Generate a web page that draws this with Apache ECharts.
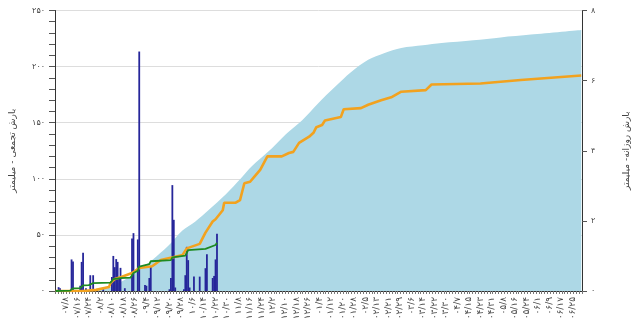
<!DOCTYPE html>
<html><head><meta charset="utf-8">
<script src="https://cdn.jsdelivr.net/npm/echarts@6/dist/echarts.min.js"></script>
<style>html,body{margin:0;padding:0;background:#fff}#c{width:640px;height:331px}</style>
</head><body><div id="c"></div>
<script>
// Persian water-year calendar: months Mehr(7)..Shahrivar(6)
const months = [7, 8, 9, 10, 11, 12, 1, 2, 3, 4, 5, 6];
const monthLengths = [30, 30, 30, 30, 30, 30, 31, 31, 31, 31, 31, 31];

// daily rainfall of current year (mm, right axis): day index -> value
const barDays = [2, 3, 11, 12, 17, 18, 19, 21, 24, 26, 33, 39, 40, 41, 42, 43, 44, 45, 48, 53, 54, 57, 58, 62, 63, 65, 66, 79, 80, 81, 82, 83, 89, 90, 91, 92, 93, 96, 100, 104, 105, 109, 110, 111, 112];
const barVals = [0.11, 0.08, 0.9, 0.84, 0.15, 0.83, 1.09, 0.08, 0.45, 0.45, 0.05, 0.4, 1.0, 0.68, 0.91, 0.83, 0.35, 0.66, 0.08, 1.5, 1.65, 1.47, 6.83, 0.17, 0.15, 0.37, 0.69, 0.05, 0.37, 3.02, 2.03, 0.1, 0.05, 0.45, 1.26, 0.88, 0.1, 0.41, 0.41, 0.65, 1.05, 0.37, 0.43, 0.9, 1.63];

// cumulative rainfall current year (green, left axis)
const greenDays = [0, 10, 11, 12, 17, 18, 19, 23, 24, 26, 38, 39, 40, 45, 52, 53, 54, 57, 58, 65, 66, 80, 81, 82, 90, 91, 92, 104, 105, 111, 112];
const greenVals = [0, 0.3, 1.2, 2.4, 2.6, 3.6, 5.0, 5.3, 6.0, 7.0, 7.5, 8.5, 10.5, 11.5, 12, 14, 16, 18, 21.7, 24, 26.5, 27.5, 30, 31, 31.5, 34, 36.5, 37.5, 39, 41, 43];

// cumulative rainfall previous year (orange, left axis)
const orangeDays = [0, 19, 28, 37, 38, 41, 46, 53, 58, 67, 73, 79, 83, 88, 91, 100, 104, 109, 111, 116, 117, 125, 128, 131, 135, 138, 142, 147, 157, 162, 165, 169, 176, 179, 181, 185, 187, 198, 200, 212, 217, 226, 233, 240, 257, 261, 295, 323, 365];
const orangeVals = [0, 0, 1, 3.5, 7, 10.7, 12.7, 16, 20.5, 22, 27.6, 29.4, 30.6, 32, 38, 42, 52, 62, 64, 72, 78.7, 78.7, 81, 96, 97.4, 102, 108, 120, 120, 123, 124, 132, 137.5, 141, 146, 148, 152, 155, 162, 163, 166, 170, 172.6, 177.6, 179, 184, 185, 188, 192];

// long-term mean cumulative rainfall (light blue area, left axis)
const areaDays = [0, 30, 37, 48, 57, 67, 78, 88, 97, 106, 118, 129, 136, 150, 160, 171, 182, 194, 205, 217, 228, 240, 255, 268, 290, 309, 330, 365];
const areaVals = [0, 1, 3, 10, 18, 27.6, 40, 54, 62, 72, 86, 101, 111, 127, 140, 152, 167, 182, 195, 206, 212, 216.6, 219, 221, 223.5, 226, 228.5, 232.6];

const faDigits = '۰۱۲۳۴۵۶۷۸۹';
const toFa = s => String(s).replace(/\d/g, d => faDigits[d]);

const categories = [];
months.forEach((m, k) => {
  for (let d = 1; d <= monthLengths[k]; d++) {
    categories.push(toFa((m < 10 ? '0' : '') + m + '/' + d));
  }
});

const barData = categories.map(() => null);
barDays.forEach((d, k) => { barData[d] = barVals[k]; });
const pairs = (xs, ys) => xs.map((x, k) => [x, ys[k]]);

const font = 'DejaVu Sans';
const chart = echarts.init(document.getElementById('c'), null, {renderer: 'canvas'});
chart.setOption({
  animation: false,
  backgroundColor: '#fff',
  textStyle: {fontFamily: font},
  grid: {left: 52, right: 58, top: 10.5, bottom: 40, containLabel: false},
  xAxis: {
    type: 'category',
    data: categories,
    boundaryGap: true,
    axisLine: {lineStyle: {color: '#333', width: 1}},
    axisTick: {show: true, interval: 1, length: 3, lineStyle: {color: '#777'}},
    axisLabel: {
      interval: (idx) => idx % 8 === 7,
      rotate: 90, fontSize: 9, color: '#444', margin: 6, fontFamily: font
    },
    splitLine: {show: false}
  },
  yAxis: [{
    type: 'value', min: 0, max: 250, interval: 50,
    position: 'left',
    name: 'بارش تجمعی - میلیمتر', nameLocation: 'middle', nameGap: 38, nameRotate: 90,
    nameTextStyle: {fontSize: 9, color: '#444', fontFamily: font},
    axisLine: {show: true, lineStyle: {color: '#333'}},
    axisTick: {show: true, length: 6, lineStyle: {color: '#555'}},
    minorTick: {show: true, splitNumber: 5, length: 6, lineStyle: {color: '#555'}},
    axisLabel: {formatter: v => toFa(v), fontSize: 8, color: '#444', margin: 10, fontFamily: font},
    splitLine: {show: true, lineStyle: {color: '#ddd', width: 1}}
  }, {
    type: 'value', min: 0, max: 8, interval: 2,
    position: 'right',
    name: 'بارش روزانه- میلیمتر', nameLocation: 'middle', nameGap: 40, nameRotate: 90,
    nameTextStyle: {fontSize: 9, color: '#444', fontFamily: font},
    axisLine: {show: true, lineStyle: {color: '#333'}},
    axisTick: {show: true, length: 5, lineStyle: {color: '#555'}},
    axisLabel: {formatter: v => toFa(v), fontSize: 8, color: '#444', margin: 9, fontFamily: font},
    splitLine: {show: false}
  }],
  series: [{
    name: 'mean', type: 'line', yAxisIndex: 0, z: 1, smooth: 0.3,
    data: pairs(areaDays, areaVals), showSymbol: false, symbol: 'none',
    lineStyle: {width: 0, color: '#add8e6'},
    areaStyle: {color: '#add8e6', opacity: 1}
  }, {
    name: 'daily', type: 'bar', yAxisIndex: 1, z: 3,
    data: barData, barWidth: 1.8,
    itemStyle: {color: '#26269a'}
  }, {
    name: 'prev', type: 'line', yAxisIndex: 0, z: 4,
    data: pairs(orangeDays, orangeVals), showSymbol: false, symbol: 'none',
    lineStyle: {width: 2.6, color: '#f2a21f'}
  }, {
    name: 'cur', type: 'line', yAxisIndex: 0, z: 5,
    data: pairs(greenDays, greenVals), showSymbol: false, symbol: 'none',
    lineStyle: {width: 1.8, color: '#1e8a22'}
  }]
});
</script></body></html>
